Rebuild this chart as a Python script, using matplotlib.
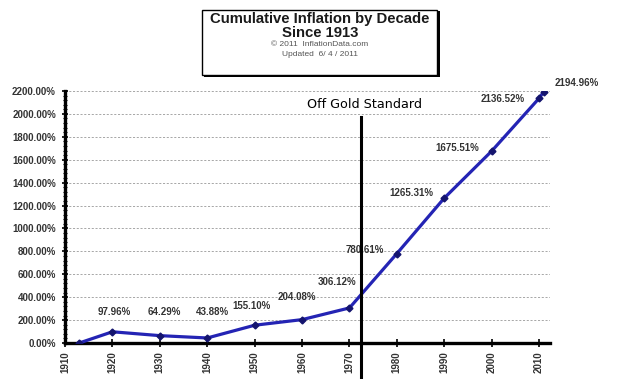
import matplotlib
matplotlib.use("Agg")
import matplotlib.pyplot as plt
from matplotlib.patches import Rectangle
from matplotlib.ticker import MultipleLocator, FuncFormatter

years = [1913, 1920, 1930, 1940, 1950, 1960, 1970, 1980, 1990, 2000, 2010, 2011]
inflation = [0.0, 97.96, 64.29, 43.88, 155.10, 204.08, 306.12, 780.61,
             1265.31, 1675.51, 2136.52, 2194.96]
labels = ["", "97.96%", "64.29%", "43.88%", "155.10%", "204.08%", "306.12%",
          "780.61%", "1265.31%", "1675.51%", "2136.52%", "2194.96%"]
# label offsets in pixels (dx, dy) relative to each point
label_offsets = [(0, 0), (2, 20), (4, 24), (5, 26), (-3, 19), (-5, 23), (-12, 26),
                 (-32, 4), (-33, 5), (-34, 3), (-36, -1), (33, 9)]
decade_ticks = list(range(1910, 2011, 10))
gold_year = 1972.4

plt.rcParams['font.family'] = ['Liberation Sans', 'DejaVu Sans']

fig = plt.figure(figsize=(6.3, 3.79), dpi=100)
ax = fig.add_axes([65 / 630, 36 / 379, 485 / 630, 252 / 379])

ax.plot(years, inflation, color='#2424b4', lw=2.3, marker='D', markersize=3.5,
        markerfacecolor='#14146e', markeredgecolor='#14146e', zorder=3)

for x, y, t, (dx, dy) in zip(years, inflation, labels, label_offsets):
    if t:
        ax.annotate(t, (x, y), xytext=(dx * 0.72, dy * 0.72), textcoords='offset points',
                    ha='center', va='center', fontsize=7, fontweight='bold',
                    color='#333333')

ax.set_xlim(1910, 2012.3)
ax.set_ylim(0, 2200)

ax.yaxis.set_major_locator(MultipleLocator(200))
ax.yaxis.set_minor_locator(MultipleLocator(40))
ax.yaxis.set_major_formatter(FuncFormatter(lambda v, p: f"{v:.2f}%"))
ax.set_xticks(decade_ticks)
ax.xaxis.set_minor_locator(MultipleLocator(1))

ax.grid(axis='y', which='major', linestyle=(0, (2.5, 2)), color='#999999', lw=0.6)
ax.set_axisbelow(True)

for s in ['top', 'right']:
    ax.spines[s].set_visible(False)
ax.spines['left'].set_linewidth(2.4)
ax.spines['bottom'].set_linewidth(2.4)

ax.tick_params(axis='y', which='major', direction='inout', length=5, width=1.2,
               labelsize=7, labelcolor='#333333', pad=4)
ax.tick_params(axis='y', which='minor', direction='inout', length=3, width=0.8)
ax.tick_params(axis='x', which='major', direction='inout', length=6, width=1.2,
               labelsize=7, labelcolor='#333333', labelrotation=90, pad=3)
ax.tick_params(axis='x', which='minor', direction='inout', length=3, width=0.8,
               color='white')
for lab in ax.get_xticklabels() + ax.get_yticklabels():
    lab.set_fontweight('bold')

# gold standard line
ax.axvline(gold_year, ymin=-0.15, ymax=0.897, color='black', lw=2.2,
           clip_on=False, zorder=4)
ax.text(gold_year + 0.8, 2078, "Off Gold Standard", ha='center', va='center',
        fontsize=9.2, family='DejaVu Sans', color='black')

# title box
W, H = 630, 379
fig.patches.append(Rectangle((204 / W, (H - 77) / H), 236 / W, 66 / H,
                             transform=fig.transFigure, facecolor='black',
                             edgecolor='none', zorder=5))
fig.patches.append(Rectangle((202 / W, (H - 75) / H), 235 / W, 65 / H,
                             transform=fig.transFigure, facecolor='white',
                             edgecolor='black', lw=1.0, zorder=6))
cx = 320 / W
fig.text(cx, 1 - 19 / H, "Cumulative Inflation by Decade", ha='center', va='center',
         fontsize=10.7, fontweight='bold', color='#1a1a1a', zorder=7)
fig.text(cx, 1 - 33 / H, "Since 1913", ha='center', va='center',
         fontsize=10.7, fontweight='bold', color='#1a1a1a', zorder=7)
fig.text(cx, 1 - 44 / H, "\u00a9 2011  InflationData.com", ha='center', va='center',
         fontsize=6, color='#555555', zorder=7)
fig.text(cx, 1 - 54 / H, "Updated  6/ 4 / 2011", ha='center', va='center',
         fontsize=6, color='#555555', zorder=7)

fig.savefig("out.png", dpi=100)
